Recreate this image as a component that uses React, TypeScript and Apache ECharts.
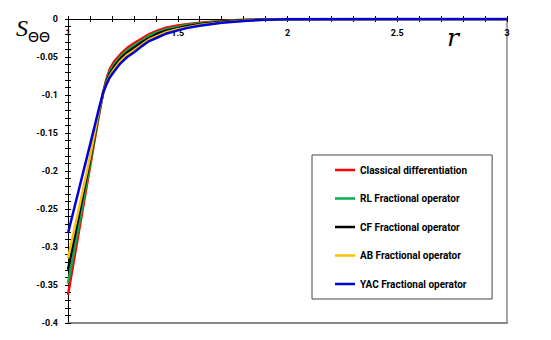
import React, { useEffect, useRef } from "react";
import * as echarts from "echarts";

const rValues = [1, 1.05, 1.1, 1.14, 1.16, 1.175, 1.19, 1.21, 1.24, 1.27, 1.3, 1.34, 1.37, 1.41, 1.45, 1.5, 1.54, 1.6, 1.7, 1.8, 1.9, 2.0, 2.5, 3];

const classical = [-0.363, -0.279, -0.195, -0.128, -0.097, -0.079, -0.066, -0.056, -0.046, -0.038, -0.032, -0.025, -0.02, -0.015, -0.011, -0.0085, -0.0068, -0.005, -0.0025, -0.001, -0.0004, 0, 0, 0];
const rlOp = [-0.348, -0.27, -0.191, -0.126, -0.097, -0.081, -0.069, -0.06, -0.049, -0.041, -0.035, -0.028, -0.022, -0.017, -0.013, -0.0105, -0.008, -0.006, -0.003, -0.0014, -0.0005, -0.0001, 0, 0];
const cfOp = [-0.33, -0.258, -0.186, -0.124, -0.097, -0.083, -0.072, -0.063, -0.052, -0.044, -0.038, -0.03, -0.025, -0.019, -0.015, -0.012, -0.0095, -0.007, -0.0037, -0.0018, -0.0007, -0.0002, 0, 0];
const abOp = [-0.315, -0.249, -0.182, -0.122, -0.097, -0.085, -0.075, -0.066, -0.055, -0.047, -0.041, -0.033, -0.027, -0.022, -0.017, -0.0135, -0.011, -0.008, -0.0045, -0.0022, -0.0009, -0.0003, 0, 0];
const yacOp = [-0.282, -0.224, -0.166, -0.119, -0.097, -0.086, -0.077, -0.069, -0.058, -0.05, -0.044, -0.035, -0.029, -0.024, -0.019, -0.015, -0.012, -0.009, -0.005, -0.0025, -0.001, -0.0003, 0, 0];

const xTickLabels = ["1", "1.5", "2", "2.5", "3"];

const seriesNames = [
  "Classical differentiation",
  "RL Fractional operator",
  "CF Fractional operator",
  "AB Fractional operator",
  "YAC Fractional operator",
];
const seriesColors = ["#FF0000", "#00B050", "#000000", "#FFC000", "#0000DD"];
const seriesValues = [classical, rlOp, cfOp, abOp, yacOp];

export default function App() {
  const ref = useRef<HTMLDivElement>(null);
  useEffect(() => {
    if (!ref.current) return;
    const chart = echarts.init(ref.current, null, { renderer: "svg" });
    const tickFont = { fontFamily: "Roboto", fontWeight: "bold" as const, fontSize: 9, color: "#000" };
    const baseX = { type: "value" as const, min: 1, max: 3, interval: 0.5, splitLine: { show: false } };
    const baseY = { type: "value" as const, min: -0.4, max: 0, interval: 0.05, splitLine: { show: false } };
    chart.setOption({
      animation: false,
      backgroundColor: "#fff",
      grid: { left: 68, top: 19, right: 44, bottom: 17, containLabel: false },
      xAxis: [
        {
          ...baseX,
          position: "top",
          axisLine: { show: true, onZero: false, lineStyle: { color: "#000", width: 1 } },
          axisTick: { show: true, inside: false, length: 3, lineStyle: { color: "#000" } },
          minorTick: { show: true, splitNumber: 5, length: 3, lineStyle: { color: "#000" } },
          axisLabel: {
            ...tickFont,
            inside: true,
            margin: 9,
            showMinLabel: false,
            showMaxLabel: true,
            hideOverlap: false,
            formatter: (v: number) => {
              const idx = Math.round((v - 1) / 0.5);
              return idx === 0 ? "" : xTickLabels[idx] ?? String(v);
            },
          },
        },
        {
          ...baseX,
          position: "top",
          axisLine: { show: false, onZero: false },
          axisTick: { show: true, inside: true, length: 3, lineStyle: { color: "#000" } },
          minorTick: { show: true, splitNumber: 5, length: 3, lineStyle: { color: "#000" } },
          axisLabel: { show: false },
        },
        {
          ...baseX,
          position: "bottom",
          axisLine: { show: true, onZero: false, lineStyle: { color: "#888", width: 2 } },
          axisTick: { show: false },
          axisLabel: { show: false },
        },
      ],
      yAxis: [
        {
          ...baseY,
          position: "left",
          axisLine: { show: true, onZero: false, lineStyle: { color: "#000", width: 1 } },
          axisTick: { show: true, inside: false, length: 3, lineStyle: { color: "#000" } },
          minorTick: { show: true, splitNumber: 5, length: 3, lineStyle: { color: "#000" } },
          axisLabel: { ...tickFont, margin: 10, showMinLabel: true, showMaxLabel: true },
        },
        {
          ...baseY,
          position: "left",
          axisLine: { show: false, onZero: false },
          axisTick: { show: true, inside: true, length: 3, lineStyle: { color: "#000" } },
          minorTick: { show: true, splitNumber: 5, length: 3, lineStyle: { color: "#000" } },
          axisLabel: { show: false },
        },
        {
          ...baseY,
          position: "right",
          axisLine: { show: true, onZero: false, lineStyle: { color: "#888", width: 1.5 } },
          axisTick: { show: false },
          axisLabel: { show: false },
        },
      ],
      legend: {
        orient: "vertical",
        left: 312,
        top: 155,
        padding: [10, 25, 10, 23],
        icon: "rect",
        itemWidth: 20,
        itemHeight: 2.5,
        itemGap: 18.5,
        borderColor: "#444",
        borderWidth: 1,
        backgroundColor: "#fff",
        data: seriesNames,
        textStyle: { fontFamily: "Roboto", fontWeight: "bold", fontSize: 10, color: "#000" },
      },
      graphic: [
        { type: "text", left: 16, top: 16, style: { text: "S", font: 'italic 24px "Liberation Serif"', fill: "#000" } },
        { type: "text", left: 28, top: 30, style: { text: "ΘΘ", font: '14px "DejaVu Sans"', fill: "#000" } },
        { type: "text", left: 447, top: 25, style: { text: "r", font: 'italic 25px "DejaVu Serif"', fill: "#000" } },
        {
          type: "text",
          left: 65.5,
          top: 28,
          z: 10,
          style: { text: xTickLabels[0], font: 'bold 9px "Roboto"', fill: "#000" },
        },
      ],
      series: seriesNames.map((name, i) => ({
        name,
        type: "line",
        xAxisIndex: 0,
        yAxisIndex: 0,
        data: rValues.map((r, j) => [r, seriesValues[i][j]]),
        symbol: "none",
        smooth: false,
        lineStyle: { color: seriesColors[i], width: 2.5 },
        itemStyle: { color: seriesColors[i] },
        z: 2 + i,
      })),
    });
    return () => chart.dispose();
  }, []);
  return (
    <div
      ref={ref}
      style={{ position: "fixed", left: 0, top: 0, width: 551, height: 340, background: "#fff" }}
    />
  );
}
